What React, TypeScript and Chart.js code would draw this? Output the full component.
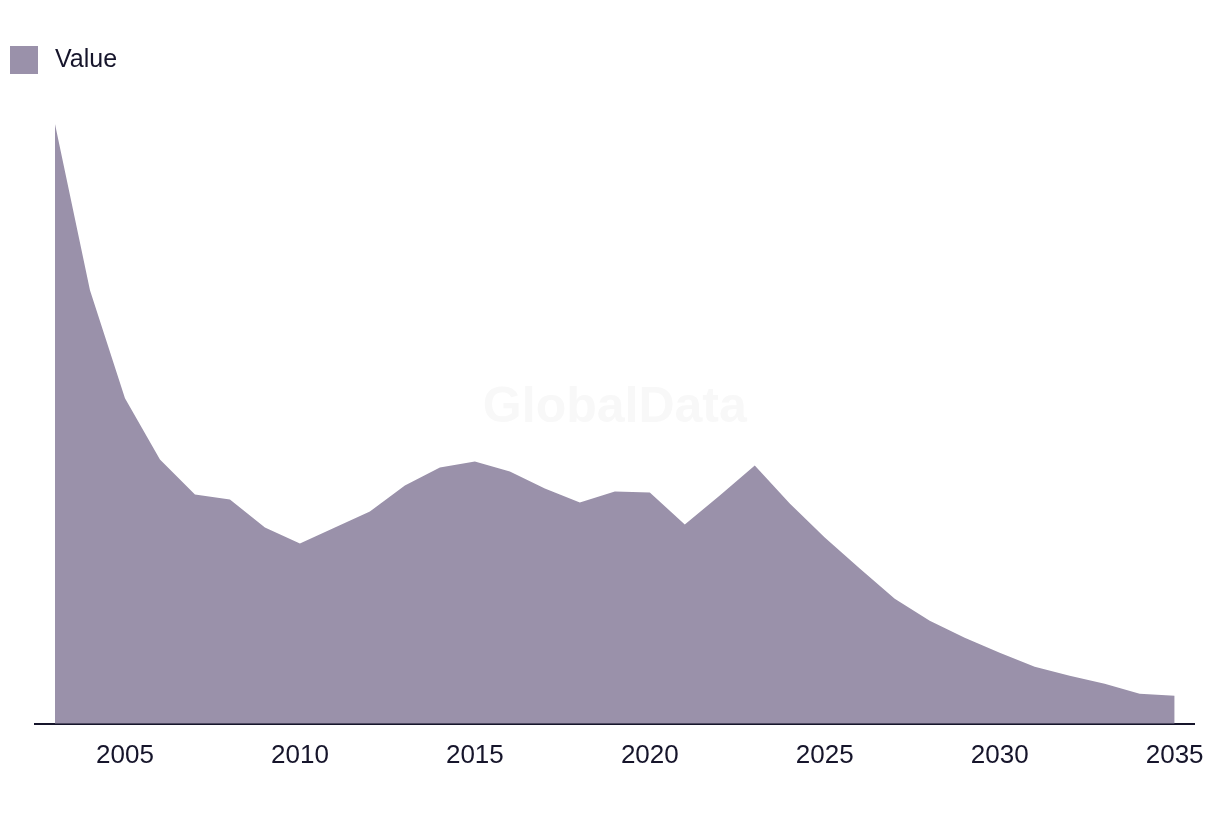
import React, { useEffect, useRef } from "react";
import { Chart, registerables } from "chart.js";

Chart.register(...registerables);

const years: number[] = [
  2003, 2004, 2005, 2006, 2007, 2008, 2009, 2010, 2011, 2012, 2013, 2014, 2015, 2016, 2017, 2018, 2019,
  2020, 2021, 2022, 2023, 2024, 2025, 2026, 2027, 2028, 2029, 2030, 2031, 2032, 2033, 2034, 2035,
];
const values: number[] = [
  599, 433, 325, 264, 229, 224, 196, 180, 196, 212, 238, 256, 262, 252, 235, 221, 232,
  231, 199, 228, 258, 220, 186, 155, 125, 103, 86, 71, 57, 48, 40, 30, 28,
];
const tickYears: number[] = [2005, 2010, 2015, 2020, 2025, 2030, 2035];
const seriesName = "Value";
const watermark = "GlobalData";

const FILL = "rgb(154,145,170)";
const INK = "#16152b";
const FONT = "'Liberation Sans', Arial, sans-serif";

const watermarkPlugin = {
  id: "watermark",
  beforeDatasetsDraw(chart: any) {
    const { ctx, chartArea } = chart;
    ctx.save();
    ctx.fillStyle = "#f8f8f8";
    ctx.font = `bold 50px ${FONT}`;
    ctx.textAlign = "center";
    ctx.textBaseline = "middle";
    ctx.fillText(watermark, (chartArea.left + chartArea.right) / 2, 408);
    ctx.restore();
  },
};

export default function App() {
  const ref = useRef<HTMLCanvasElement | null>(null);
  useEffect(() => {
    if (!ref.current) return;
    const chart = new Chart(ref.current, {
      type: "line",
      data: {
        datasets: [
          {
            label: seriesName,
            data: years.map((y, i) => ({ x: y, y: values[i] })),
            backgroundColor: FILL,
            borderWidth: 0,
            borderColor: FILL,
            pointRadius: 0,
            fill: "origin",
            tension: 0,
          },
        ],
      },
      options: {
        animation: false,
        responsive: true,
        maintainAspectRatio: false,
        layout: { padding: { left: 35, right: 25, top: 123, bottom: 27 } },
        plugins: { legend: { display: false }, tooltip: { enabled: false } },
        scales: {
          x: {
            type: "linear",
            min: 2003 - 20 / 35,
            max: 2035 + 20 / 35,
            afterBuildTicks: (scale: any) => {
              scale.ticks = tickYears.map((v) => ({ value: v }));
            },
            grid: { display: false, drawTicks: false },
            border: { display: true, color: INK, width: 2 },
            ticks: {
              color: INK,
              font: { family: FONT, size: 26 },
              padding: 16,
              maxRotation: 0,
              autoSkip: false,
              callback: (v: any) => String(v),
            },
          },
          y: {
            display: false,
            min: 0,
            max: 600,
          },
        },
      },
      plugins: [watermarkPlugin],
    });
    return () => chart.destroy();
  }, []);

  return (
    <div style={{ position: "fixed", left: 0, top: 0, width: 1220, height: 814, background: "#fff" }}>
      <div
        style={{
          position: "absolute",
          left: 10,
          top: 46,
          display: "flex",
          alignItems: "center",
          fontFamily: FONT,
          fontSize: 25,
          color: INK,
        }}
      >
        <span style={{ display: "inline-block", width: 28, height: 28, background: FILL, marginRight: 17 }} />
        <span style={{ lineHeight: "26px", marginTop: -5 }}>{seriesName}</span>
      </div>
      <canvas ref={ref} />
    </div>
  );
}
